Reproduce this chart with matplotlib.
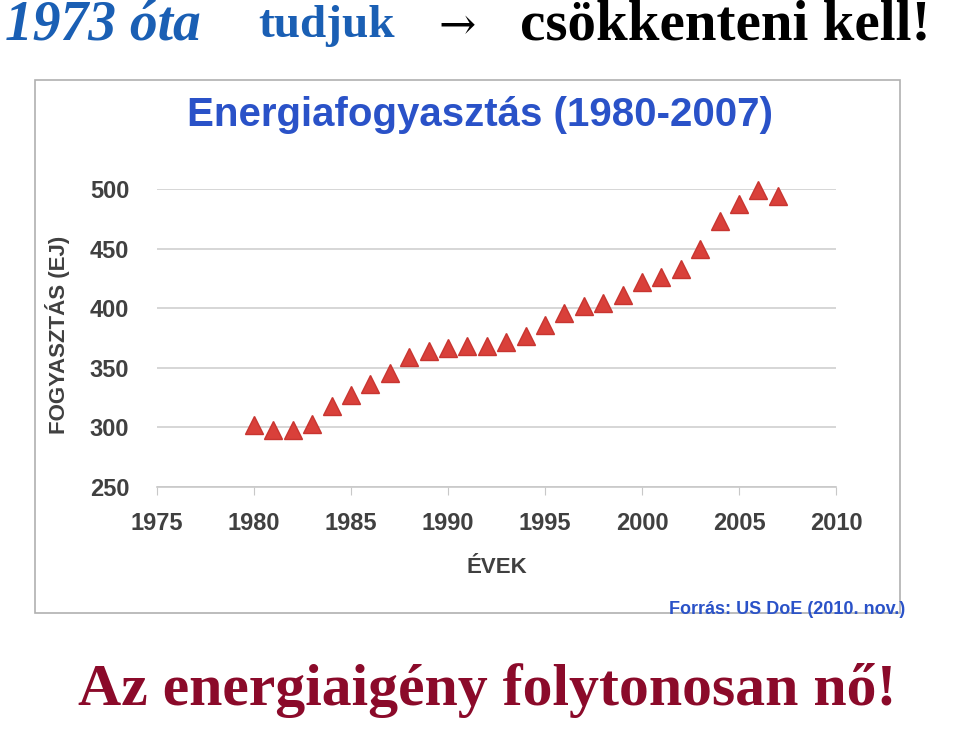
import matplotlib
matplotlib.use("Agg")
import matplotlib.pyplot as plt
from matplotlib.patches import Rectangle

years = list(range(1980, 2008))
consumption = [302, 298, 298, 303, 318, 327, 336, 346, 359, 364, 367, 368, 368, 372,
               377, 386, 396, 402, 404, 411, 422, 426, 433, 450, 473, 487, 499, 494]
xticks = [1975, 1980, 1985, 1990, 1995, 2000, 2005, 2010]
yticks = [250, 300, 350, 400, 450, 500]

fig = plt.figure(figsize=(9.6, 7.29), dpi=100)
fig.patch.set_facecolor("white")

fig.patches.append(Rectangle((35/960, 1-613/729), 865/960, 533/729, transform=fig.transFigure,
                             fill=False, edgecolor="#b0b0b0", lw=1.2))

ax = fig.add_axes([157/960, 1-487/729, 679/960, 298/729])
ax.plot(years, consumption, linestyle="none", marker="^", markersize=13,
        color="#d9403a", markeredgecolor="#c83530", clip_on=False)
ax.set_xlim(1975, 2010)
ax.set_ylim(250, 500)
ax.set_xticks(xticks)
ax.set_yticks(yticks)
ax.grid(axis="y", color="#d0d0d0", lw=1.2)
ax.set_axisbelow(True)
for s in ["top", "right", "left"]:
    ax.spines[s].set_visible(False)
ax.spines["bottom"].set_color("#c8c8c8")
ax.spines["bottom"].set_linewidth(1.2)
ax.tick_params(axis="y", length=0, pad=20)
ax.tick_params(axis="x", length=6, color="#c8c8c8", pad=12)
for lab in ax.get_xticklabels() + ax.get_yticklabels():
    lab.set_fontfamily("Liberation Sans")
    lab.set_fontweight("bold")
    lab.set_fontsize(17)
    lab.set_color("#404040")
ax.set_xlabel("ÉVEK", fontfamily="Liberation Sans", fontweight="bold", fontsize=16,
              color="#404040", labelpad=16)
fig.text(57/960, 1-335/729, "FOGYASZTÁS (EJ)", rotation=90, ha="center", va="center",
         fontfamily="Liberation Sans", fontweight="bold", fontsize=16, color="#404040")

fig.text(480/960, 1-115/729, "Energiafogyasztás (1980-2007)", ha="center", va="center",
         fontfamily="Liberation Sans", fontweight="bold", fontsize=29, color="#2a52c8")
fig.text(905/960, 1-609/729, "Forrás: US DoE (2010. nov.)", ha="right", va="center",
         fontfamily="Liberation Sans", fontweight="bold", fontsize=13, color="#2a52c8")

y0 = 1-26/729
fig.text(5/960, y0, "1973 óta", ha="left", va="center", fontfamily="Liberation Serif",
         fontstyle="italic", fontweight="bold", fontsize=40, color="#1a5fb4")
fig.text(258/960, y0, "tudjuk", ha="left", va="center", fontfamily="Liberation Serif",
         fontweight="bold", fontsize=34, color="#1a5fb4")
fig.text(438/960, y0, "→", ha="left", va="center", fontfamily="DejaVu Serif",
         fontsize=32, color="black")
fig.text(520/960, y0, "csökkenteni kell!", ha="left", va="center",
         fontfamily="Liberation Serif", fontweight="bold", fontsize=41, color="black")

fig.text(487/960, 1-690/729, "Az energiaigény folytonosan nő!", ha="center", va="center",
         fontfamily="Liberation Serif", fontweight="bold", fontsize=43, color="#8b0a2a")

fig.savefig("out.png", dpi=100, facecolor="white")
